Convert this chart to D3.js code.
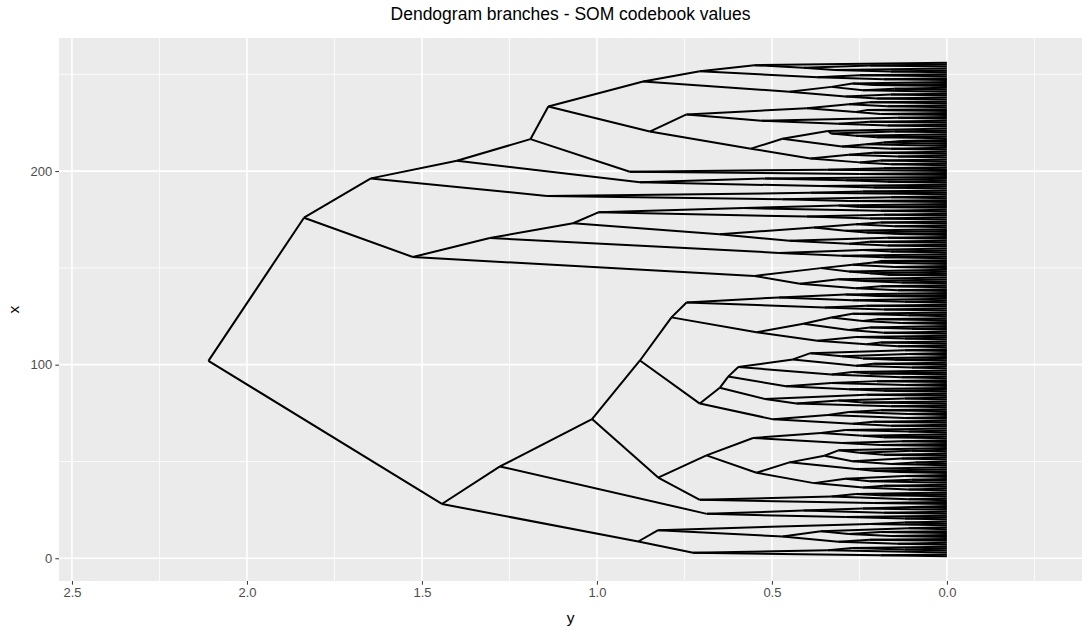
<!DOCTYPE html>
<html>
<head>
<meta charset="utf-8">
<script src="https://cdn.jsdelivr.net/npm/d3@7"></script>
<style>
  body { margin: 0; background: #fff; }
  svg { display: block; font-family: "Liberation Sans", Arial, sans-serif; }
</style>
</head>
<body>
<svg id="chart" width="1088" height="627"></svg>
<script>
// Merge heights between neighbouring leaves.
// Each group is a run of leaves; groupJoins[i] is the height that joins
// group i to group i + 1. The tree is the one these heights imply.
var groupB2Low  = [0.19, 0.725, 0.34, 0.12, 0.27];
var groupB2Up   = [0.14, 0.31, 0.22, 0.47, 0.16, 0.28, 0.19, 0.36, 0.11, 0.825, 0.22, 0.12];
var groupM      = [0.12, 0.29, 0.686, 0.18, 0.41, 0.24, 0.10];
var groupNLow   = [0.21, 0.706, 0.11, 0.33, 0.19, 0.26];
var groupNUpA   = [0.11, 0.24, 0.18, 0.38, 0.22, 0.10, 0.29, 0.12, 0.544, 0.14, 0.21,
                   0.26, 0.45, 0.16, 0.09, 0.27, 0.13, 0.35, 0.18, 0.25, 0.10, 0.31];
var groupNUpB   = [0.19, 0.30, 0.13, 0.554, 0.18, 0.24, 0.36, 0.11, 0.29];
var groupJLow   = [0.16, 0.27, 0.21, 0.496, 0.12, 0.34, 0.11, 0.28, 0.19];
var groupJUpA   = [0.16, 0.43, 0.24, 0.31, 0.12, 0.52, 0.23];
var groupJUpB   = [0.18, 0.28, 0.46, 0.12, 0.33, 0.20];
var groupJUpC   = [0.13, 0.33, 0.22, 0.27, 0.596, 0.10, 0.26, 0.21, 0.44, 0.15, 0.24, 0.30, 0.11, 0.39, 0.12];
var groupILow   = [0.14, 0.23, 0.19, 0.37, 0.12, 0.26, 0.544, 0.18, 0.28, 0.10, 0.22, 0.41, 0.13, 0.24, 0.20, 0.33, 0.11, 0.27];
var groupIUp    = [0.18, 0.35, 0.23, 0.744, 0.12, 0.27, 0.48, 0.20, 0.29];
var groupP      = [0.14, 0.26, 0.19, 0.42, 0.13, 0.24, 0.31, 0.55, 0.17, 0.22, 0.28, 0.36, 0.15, 0.27, 0.21, 0.19];
var groupOLow   = [0.18, 0.30, 0.48, 0.16, 0.24];
var groupQLow   = [0.17, 0.28, 0.22, 0.45, 0.17, 0.65, 0.14, 0.23, 0.29, 0.38, 0.15, 0.26, 0.19];
var groupQUp    = [0.22, 0.40, 0.18, 0.996, 0.19, 0.58, 0.25, 0.31];
var groupF      = [0.28, 0.47, 0.16, 1.143, 0.39, 0.24];
var groupELow   = [0.21, 0.36, 0.877, 0.17, 0.29, 0.52];
var groupCLow   = [0.25, 0.906, 0.34, 0.18];
var groupGLow   = [0.16, 0.25, 0.19, 0.39, 0.14, 0.28, 0.21, 0.56, 0.16, 0.30, 0.23, 0.18, 0.13, 0.47, 0.20, 0.26, 0.33, 0.15, 0.34];
var groupGUp    = [0.17, 0.31, 0.22, 0.53, 0.14, 0.744, 0.19, 0.26, 0.23, 0.40, 0.17, 0.28, 0.22];
var groupTopLow = [0.20, 0.29, 0.16, 0.45, 0.24, 0.15, 0.33, 0.21, 0.27];
var groupTopUp  = [0.18, 0.37, 0.25, 0.706, 0.16, 0.32, 0.41, 0.22, 0.55];

var groupJoins = [0.882, 1.443, 1.277, 0.825, 0.687, 1.014, 0.706, 0.649, 0.625, 0.877, 0.787,
                  2.11, 1.526, 1.306, 1.068, 1.837, 1.646, 1.40, 1.19, 0.849, 1.139, 0.868];

var xTicks = [2.5, 2.0, 1.5, 1.0, 0.5, 0.0];
var xMinor = [2.25, 1.75, 1.25, 0.75, 0.25, -0.25];
var yTicks = [0, 100, 200];
var yMinor = [50, 150, 250];

var groups = [groupB2Low, groupB2Up, groupM, groupNLow, groupNUpA, groupNUpB, groupJLow,
  groupJUpA, groupJUpB, groupJUpC, groupILow, groupIUp, groupP, groupOLow, groupQLow,
  groupQUp, groupF, groupELow, groupCLow, groupGLow, groupGUp, groupTopLow, groupTopUp];

var gaps = [];
groups.forEach((g, i) => {
  gaps.push(...g);
  if (i < groupJoins.length) gaps.push(groupJoins[i]);
});
var nLeaves = gaps.length + 1;

// leaves a..b (1-based); split where the neighbours join highest
function build(a, b) {
  if (a === b) return {x: a, h: 0};
  var k = a;
  for (var i = a; i < b; i++) if (gaps[i - 1] > gaps[k - 1]) k = i;
  var left = build(a, k), right = build(k + 1, b);
  return {x: (left.x + right.x) / 2, h: gaps[k - 1], children: [left, right]};
}
var root = build(1, nLeaves);

var segments = [];
(function walk(n) {
  if (!n.children) return;
  n.children.forEach(c => {
    segments.push({h1: n.h, x1: n.x, h2: c.h, x2: c.x});
    walk(c);
  });
})(root);

var panel = {left: 59, right: 1082, top: 38, bottom: 581};
var svg = d3.select("#chart");

var x = d3.scaleLinear().domain([2.537, -0.386]).range([panel.left, panel.right]);
var y = d3.scaleLinear().domain([1 - 0.05 * (nLeaves - 1), nLeaves + 0.05 * (nLeaves - 1)])
  .range([panel.bottom, panel.top]);

svg.append("rect")
  .attr("x", panel.left).attr("y", panel.top)
  .attr("width", panel.right - panel.left).attr("height", panel.bottom - panel.top)
  .attr("fill", "#ebebeb");

var grid = svg.append("g").attr("stroke", "#fff");
grid.selectAll(".vmin").data(xMinor).join("line")
  .attr("x1", d => x(d)).attr("x2", d => x(d))
  .attr("y1", panel.top).attr("y2", panel.bottom).attr("stroke-width", 0.8);
grid.selectAll(".hmin").data(yMinor).join("line")
  .attr("y1", d => y(d)).attr("y2", d => y(d))
  .attr("x1", panel.left).attr("x2", panel.right).attr("stroke-width", 0.8);
grid.selectAll(".vmaj").data(xTicks).join("line")
  .attr("x1", d => x(d)).attr("x2", d => x(d))
  .attr("y1", panel.top).attr("y2", panel.bottom).attr("stroke-width", 1.6);
grid.selectAll(".hmaj").data(yTicks).join("line")
  .attr("y1", d => y(d)).attr("y2", d => y(d))
  .attr("x1", panel.left).attr("x2", panel.right).attr("stroke-width", 1.6);

svg.append("g")
  .attr("stroke", "#000").attr("stroke-width", 2).attr("fill", "none")
  .selectAll("line").data(segments).join("line")
  .attr("x1", d => x(d.h1)).attr("y1", d => y(d.x1))
  .attr("x2", d => x(d.h2)).attr("y2", d => y(d.x2));

function styleAxis(g) {
  g.select(".domain").remove();
  g.selectAll(".tick line").attr("stroke", "#333");
  g.selectAll(".tick text").attr("fill", "#4d4d4d").style("font-size", "13px");
}

svg.append("g")
  .attr("transform", `translate(0,${panel.bottom})`)
  .call(d3.axisBottom(x).tickValues(xTicks).tickFormat(d3.format(".1f")).tickSize(3.7).tickPadding(3))
  .call(styleAxis);

svg.append("g")
  .attr("transform", `translate(${panel.left},0)`)
  .call(d3.axisLeft(y).tickValues(yTicks).tickSize(3.7).tickPadding(3))
  .call(styleAxis);

svg.append("text")
  .attr("x", (panel.left + panel.right) / 2).attr("y", 20)
  .attr("text-anchor", "middle").style("font-size", "17.5px").attr("fill", "#000")
  .text("Dendogram branches - SOM codebook values");

svg.append("text")
  .attr("x", (panel.left + panel.right) / 2).attr("y", 623)
  .attr("text-anchor", "middle").style("font-size", "15.5px")
  .text("y");

svg.append("text")
  .attr("transform", `translate(19,${(panel.top + panel.bottom) / 2}) rotate(-90)`)
  .attr("text-anchor", "middle").style("font-size", "15.5px")
  .text("x");
</script>
</body>
</html>
